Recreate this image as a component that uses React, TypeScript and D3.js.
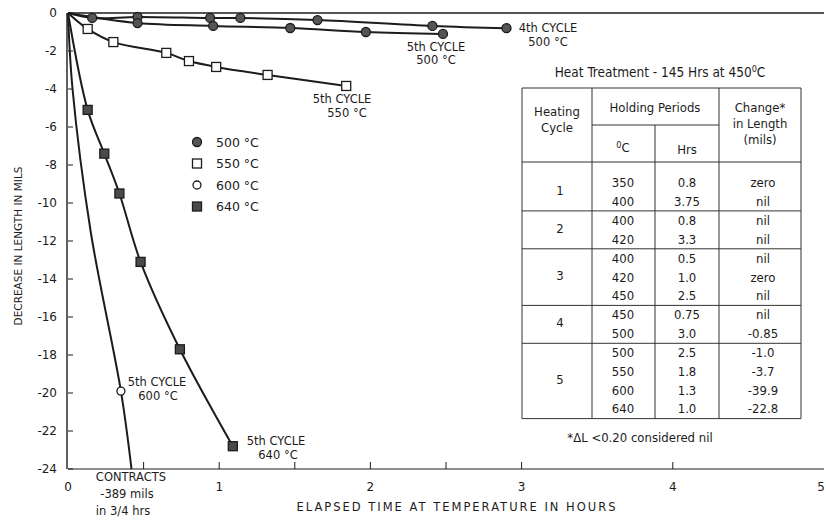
import React from "react";
import * as d3 from "d3";

const width = 826;
const height = 521;
const margin = { top: 13, right: 1, bottom: 52, left: 68 };

// 500 C, 4th cycle
const hrs500a = [0, 0.16, 0.46, 0.94, 1.14, 1.65, 2.41, 2.9];
const mils500a = [0, -0.26, -0.21, -0.26, -0.26, -0.37, -0.68, -0.8];
// 500 C, 5th cycle
const hrs500b = [0, 0.46, 0.96, 1.47, 1.97, 2.48];
const mils500b = [0, -0.53, -0.68, -0.79, -1.0, -1.1];
// 550 C
const hrs550 = [0, 0.13, 0.3, 0.65, 0.8, 0.98, 1.32, 1.84];
const mils550 = [0, -0.84, -1.53, -2.1, -2.53, -2.84, -3.26, -3.84];
// 600 C (curve runs off the axis)
const hrs600curve = [0, 0.03, 0.15, 0.35, 0.42];
const mils600curve = [0, -4, -11.5, -19.9, -24];
const hrs600 = [0.35];
const mils600 = [-19.9];
// 640 C
const hrs640 = [0, 0.13, 0.24, 0.34, 0.48, 0.74, 1.09];
const mils640 = [0, -5.1, -7.4, -9.5, -13.1, -17.7, -22.8];

const xTicks = [0, 1, 2, 3, 4, 5];
const xMinor = [0.5, 1, 1.5, 2, 2.5, 3, 4];
const yTicks = [0, -2, -4, -6, -8, -10, -12, -14, -16, -18, -20, -22, -24];

const legendLabels = ["500 °C", "550 °C", "600 °C", "640 °C"];

const tableCycles = ["1", "2", "3", "4", "5"];
const tableTemps = [
  ["350", "400"],
  ["400", "420"],
  ["400", "420", "450"],
  ["450", "500"],
  ["500", "550", "600", "640"],
];
const tableHrs = [
  ["0.8", "3.75"],
  ["0.8", "3.3"],
  ["0.5", "1.0", "2.5"],
  ["0.75", "3.0"],
  ["2.5", "1.8", "1.3", "1.0"],
];
const tableChange = [
  ["zero", "nil"],
  ["nil", "nil"],
  ["nil", "zero", "nil"],
  ["nil", "-0.85"],
  ["-1.0", "-3.7", "-39.9", "-22.8"],
];

const x = d3
  .scaleLinear()
  .domain([0, 5])
  .range([margin.left, width - margin.right - 1]);
const y = d3
  .scaleLinear()
  .domain([0, -24])
  .range([margin.top, height - margin.bottom]);

const zip = (xs: number[], ys: number[]) => xs.map((d, i) => [d, ys[i]] as [number, number]);

const line = d3
  .line<[number, number]>()
  .x((d) => x(d[0]))
  .y((d) => y(d[1]))
  .curve(d3.curveCatmullRom.alpha(0.5));

const ink = "#1c1c1c";
const font = "'DejaVu Sans', sans-serif";
const tableFont = "'Liberation Sans Narrow', 'DejaVu Sans Condensed', sans-serif";

function Circle({ cx, cy, open }: { cx: number; cy: number; open?: boolean }) {
  return (
    <circle
      cx={cx}
      cy={cy}
      r={open ? 4 : 4.5}
      fill={open ? "#fff" : "#555"}
      stroke={ink}
      strokeWidth={1.3}
    />
  );
}

function Square({ cx, cy, filled }: { cx: number; cy: number; filled?: boolean }) {
  const s = 9;
  return (
    <rect
      x={cx - s / 2}
      y={cy - s / 2}
      width={s}
      height={s}
      fill={filled ? "#4a4a4a" : "#fff"}
      stroke={ink}
      strokeWidth={1.3}
    />
  );
}

function Table() {
  const left = 522;
  const right = 801;
  const c1 = 592;
  const c2 = 655;
  const c3 = 719;
  const top = 88;
  const mid = 125;
  const head = 162;
  const rowH = 18.7;
  const groupTop: number[] = [];
  let yy = head + 12;
  tableTemps.forEach((g) => {
    groupTop.push(yy);
    yy += g.length * rowH + 0.5;
  });
  const bottom = yy - 1;
  const seps = groupTop.slice(1).map((t) => t - 1);
  const st = { stroke: "#333", strokeWidth: 1 };
  const txt = { fontFamily: tableFont, fontSize: 13, fill: ink, textAnchor: "middle" as const };
  return (
    <g>
      <text x={660} y={77} fontFamily={tableFont} fontSize={13.5} fill={ink} textAnchor="middle">
        Heat Treatment - 145 Hrs at 450<tspan dy={-5} fontSize={9}>0</tspan>
        <tspan dy={5}>C</tspan>
      </text>
      <line x1={left} x2={right} y1={top} y2={top} {...st} />
      <line x1={left} x2={left} y1={top} y2={bottom} {...st} />
      <line x1={right} x2={right} y1={top} y2={bottom} {...st} />
      <line x1={c1} x2={c1} y1={top} y2={bottom} {...st} />
      <line x1={c3} x2={c3} y1={top} y2={bottom} {...st} />
      <line x1={c2} x2={c2} y1={mid} y2={bottom} {...st} />
      <line x1={c1} x2={c3} y1={mid} y2={mid} {...st} />
      <line x1={left} x2={right} y1={head} y2={head} {...st} />
      {seps.map((s, i) => (
        <line key={i} x1={left} x2={right} y1={s} y2={s} {...st} />
      ))}
      <line x1={left} x2={right} y1={bottom} y2={bottom} {...st} />
      <text x={557} y={116} {...txt}>Heating</text>
      <text x={557} y={132} {...txt}>Cycle</text>
      <text x={655} y={112} {...txt}>Holding Periods</text>
      <text x={760} y={112} {...txt}>Change*</text>
      <text x={760} y={128} {...txt}>in Length</text>
      <text x={760} y={144} {...txt}>(mils)</text>
      <text x={623} y={152} {...txt}>
        <tspan dy={-4} fontSize={9}>0</tspan>
        <tspan dy={4}>C</tspan>
      </text>
      <text x={687} y={154} {...txt}>Hrs</text>
      {tableTemps.map((g, gi) => {
        const t0 = groupTop[gi];
        const cy = t0 + (g.length * rowH) / 2;
        return (
          <g key={gi}>
            <text x={560} y={cy + 2} {...txt}>{tableCycles[gi]}</text>
            {g.map((v, ri) => {
              const ry = t0 + ri * rowH + 13;
              return (
                <g key={ri}>
                  <text x={623} y={ry} {...txt}>{v}</text>
                  <text x={687} y={ry} {...txt}>{tableHrs[gi][ri]}</text>
                  <text x={763} y={ry} {...txt}>{tableChange[gi][ri]}</text>
                </g>
              );
            })}
          </g>
        );
      })}
      <text x={640} y={442} {...txt}>*ΔL &lt;0.20 considered nil</text>
    </g>
  );
}

export default function App() {
  const y0 = y(-24);
  const lab = { fontFamily: font, fontSize: 11.5, fill: ink };
  return (
    <svg
      width={width}
      height={height}
      style={{ position: "absolute", left: 0, top: 0, background: "#fff" }}
    >
      <rect width={width} height={height} fill="#fff" />
      {/* frame */}
      <line x1={x(0)} x2={x(5)} y1={y(0)} y2={y(0)} stroke={ink} strokeWidth={1.6} />
      <line x1={x(0) - 1} x2={x(0) - 1} y1={y(0)} y2={y0} stroke={ink} strokeWidth={1.4} />
      <line x1={x(0)} x2={x(5)} y1={y0} y2={y0} stroke={ink} strokeWidth={1.2} />
      {xMinor.map((t) => (
        <line key={t} x1={x(t)} x2={x(t)} y1={y0} y2={y0 - 7} stroke={ink} strokeWidth={1} />
      ))}
      {yTicks.map((t) => (
        <line key={t} x1={x(0)} x2={x(0) + 5} y1={y(t)} y2={y(t)} stroke={ink} strokeWidth={1} />
      ))}
      {xTicks.map((t) => (
        <text
          key={t}
          x={t === 5 ? x(t) - 3 : x(t)}
          y={y0 + 22}
          textAnchor="middle"
          {...lab}
          fontSize={12}
        >
          {t}
        </text>
      ))}
      {yTicks.map((t) => (
        <text key={t} x={x(0) - 11} y={y(t) + 4} textAnchor="end" {...lab} fontSize={12}>
          {t === 0 ? "0" : `-${-t}`}
        </text>
      ))}
      <text
        transform={`translate(22, 246) rotate(-90)`}
        textAnchor="middle"
        {...lab}
        fontSize={10.5}
      >
        DECREASE IN LENGTH IN MILS
      </text>
      <text
        x={457}
        y={511}
        textAnchor="middle"
        {...lab}
        fontSize={11.5}
        letterSpacing={2}
      >
        ELAPSED TIME AT TEMPERATURE IN HOURS
      </text>

      {/* curves */}
      <g fill="none" stroke={ink} strokeWidth={2}>
        <path d={line(zip(hrs500a, mils500a)) || ""} />
        <path d={line(zip(hrs500b, mils500b)) || ""} />
        <path d={line(zip(hrs550, mils550)) || ""} />
        <path d={line(zip(hrs600curve, mils600curve)) || ""} />
        <path d={line(zip(hrs640, mils640)) || ""} />
      </g>

      {/* markers */}
      {hrs500a.slice(1).map((h, i) => (
        <Circle key={"a" + i} cx={x(h)} cy={y(mils500a[i + 1])} />
      ))}
      {hrs500b.slice(1).map((h, i) => (
        <Circle key={"b" + i} cx={x(h)} cy={y(mils500b[i + 1])} />
      ))}
      {hrs550.slice(1).map((h, i) => (
        <Square key={"c" + i} cx={x(h)} cy={y(mils550[i + 1])} />
      ))}
      {hrs600.map((h, i) => (
        <Circle key={"d" + i} cx={x(h)} cy={y(mils600[i])} open />
      ))}
      {hrs640.slice(1).map((h, i) => (
        <Square key={"e" + i} cx={x(h)} cy={y(mils640[i + 1])} filled />
      ))}

      {/* legend */}
      {legendLabels.map((l, i) => {
        const ly = 142 + i * 21.5;
        return (
          <g key={l}>
            {i === 0 && <Circle cx={197} cy={ly} />}
            {i === 1 && <Square cx={197} cy={ly} />}
            {i === 2 && <Circle cx={197} cy={ly} open />}
            {i === 3 && <Square cx={197} cy={ly} filled />}
            <text x={216} y={ly + 4.5} {...lab} fontSize={12.5}>
              {l}
            </text>
          </g>
        );
      })}

      {/* annotations */}
      <g {...lab} textAnchor="middle">
        <text x={548} y={32}>4th CYCLE</text>
        <text x={548} y={46}>500 °C</text>
        <text x={436} y={51}>5th CYCLE</text>
        <text x={436} y={64}>500 °C</text>
        <text x={342} y={103}>5th CYCLE</text>
        <text x={347} y={117}>550 °C</text>
        <text x={157} y={386}>5th CYCLE</text>
        <text x={158} y={400}>600 °C</text>
        <text x={276} y={445}>5th CYCLE</text>
        <text x={278} y={459}>640 °C</text>
        <text x={131} y={481}>CONTRACTS</text>
        <text x={127} y={498}>-389 mils</text>
        <text x={123} y={515}>in 3/4 hrs</text>
      </g>

      <Table />
    </svg>
  );
}
